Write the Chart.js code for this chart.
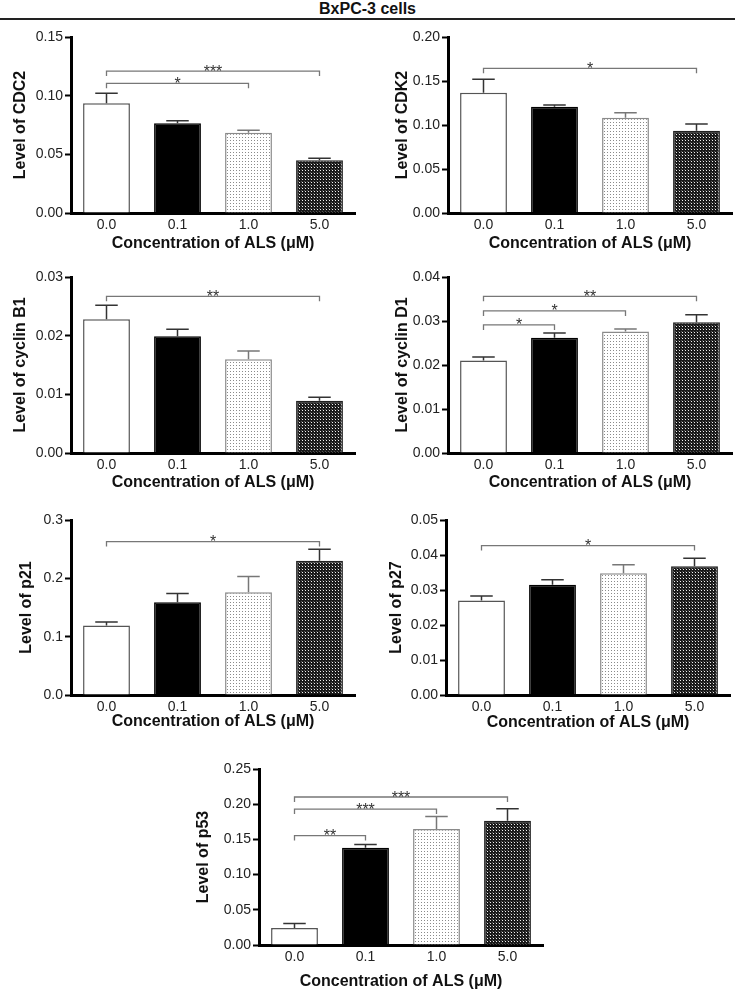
<!DOCTYPE html>
<html>
<head>
<meta charset="utf-8">
<script src="https://cdn.jsdelivr.net/npm/chart.js@4.4.0/dist/chart.umd.min.js"></script>
<style>
  body { margin: 0; background: #fff; width: 735px; height: 990px; position: relative; overflow: hidden; font-family: 'Liberation Sans', Arial, sans-serif; }
  #title { position: absolute; left: 0; top: 0; width: 735px; text-align: center; font-weight: bold; font-size: 16px; line-height: 18px; color: #111; }
  #rule { position: absolute; left: 0; top: 18px; width: 735px; border-top: 2px solid #222; }
  canvas { position: absolute; }
</style>
</head>
<body>
<div id="title">BxPC-3 cells</div>
<div id="rule"></div>
<script>
// Data (mean and upper error of each bar)
const categories = ['0.0', '0.1', '1.0', '5.0'];

const cdc2Mean = [0.0935, 0.0764, 0.0684, 0.0449];
const cdc2Err = [0.0085, 0.0023, 0.0021, 0.0017];
const cdc2Ticks = ['0.00', '0.05', '0.10', '0.15'];
const cdc2Sig = [[3, 0.121, '***'], [2, 0.1105, '*']];

const cdk2Mean = [0.1367, 0.1208, 0.1083, 0.0935];
const cdk2Err = [0.0153, 0.0019, 0.0057, 0.0075];
const cdk2Ticks = ['0.00', '0.05', '0.10', '0.15', '0.20'];
const cdk2Sig = [[3, 0.1644, '*']];

const cyclinB1Mean = [0.0228, 0.0199, 0.0160, 0.0089];
const cyclinB1Err = [0.0024, 0.0012, 0.0014, 0.0006];
const cyclinB1Ticks = ['0.00', '0.01', '0.02', '0.03'];
const cyclinB1Sig = [[3, 0.0267, '**']];

const cyclinD1Mean = [0.0210, 0.0262, 0.0276, 0.0297];
const cyclinD1Err = [0.0008, 0.0011, 0.0006, 0.0017];
const cyclinD1Ticks = ['0.00', '0.01', '0.02', '0.03', '0.04'];
const cyclinD1Sig = [[3, 0.0356, '**'], [2, 0.0323, '*'], [1, 0.0291, '*']];

const p21Mean = [0.119, 0.159, 0.176, 0.230];
const p21Err = [0.006, 0.015, 0.027, 0.020];
const p21Ticks = ['0.0', '0.1', '0.2', '0.3'];
const p21Sig = [[3, 0.263, '*']];

const p27Mean = [0.0270, 0.0315, 0.0348, 0.0368];
const p27Err = [0.0013, 0.0014, 0.0024, 0.0023];
const p27Ticks = ['0.00', '0.01', '0.02', '0.03', '0.04', '0.05'];
const p27Sig = [[3, 0.0427, '*']];

const p53Mean = [0.0243, 0.1383, 0.1646, 0.1764];
const p53Err = [0.0062, 0.0043, 0.0179, 0.0171];
const p53Ticks = ['0.00', '0.05', '0.10', '0.15', '0.20', '0.25'];
const p53Sig = [[3, 0.2102, '***'], [2, 0.1931, '***'], [1, 0.1554, '**']];

const panels = [
    { label: 'Level of CDC2', mean: cdc2Mean, err: cdc2Err, ticks: cdc2Ticks, sig: cdc2Sig },
    { label: 'Level of CDK2', mean: cdk2Mean, err: cdk2Err, ticks: cdk2Ticks, sig: cdk2Sig },
    { label: 'Level of cyclin B1', mean: cyclinB1Mean, err: cyclinB1Err, ticks: cyclinB1Ticks, sig: cyclinB1Sig },
    { label: 'Level of cyclin D1', mean: cyclinD1Mean, err: cyclinD1Err, ticks: cyclinD1Ticks, sig: cyclinD1Sig },
    { label: 'Level of p21', mean: p21Mean, err: p21Err, ticks: p21Ticks, sig: p21Sig },
    { label: 'Level of p27', mean: p27Mean, err: p27Err, ticks: p27Ticks, sig: p27Sig },
    { label: 'Level of p53', mean: p53Mean, err: p53Err, ticks: p53Ticks, sig: p53Sig }
];

// where each plot area sits on the page
const boxes = [
    { axisX: 71, top: 37, bottom: 213, right: 355, yTitleX: 21, xTitleY: 243 },
    { axisX: 448, top: 37, bottom: 213, right: 732, yTitleX: 403, xTitleY: 243 },
    { axisX: 71, top: 277, bottom: 453, right: 355, yTitleX: 21, xTitleY: 482 },
    { axisX: 448, top: 277, bottom: 453, right: 732, yTitleX: 403, xTitleY: 482 },
    { axisX: 71, top: 520, bottom: 695, right: 355, yTitleX: 27, xTitleY: 721 },
    { axisX: 446, top: 520, bottom: 695, right: 730, yTitleX: 397, xTitleY: 722 },
    { axisX: 259, top: 769, bottom: 945, right: 543, yTitleX: 204, xTitleY: 981 }
];

const FONT = "'Liberation Sans', Arial, sans-serif";

function makePattern(size, base, dots) {
    const c = document.createElement('canvas');
    c.width = size; c.height = size;
    const g = c.getContext('2d');
    g.fillStyle = base;
    g.fillRect(0, 0, size, size);
    dots.forEach(d => {
        g.fillStyle = d[2];
        g.fillRect(d[0], d[1], 1, 1);
    });
    return g.createPattern(c, 'repeat');
}

const dotted = makePattern(3, '#ffffff', [[1, 1, '#8a8a8a']]);
const checker = makePattern(3, '#1a1a1a', [[1, 1, '#f0f0f0'], [0, 0, '#555555']]);
const barFill = ['#ffffff', '#000000', dotted, checker];
const barEdge = ['#555555', '#000000', '#8a8a8a', '#222222'];

// error bars and significance brackets
const marksPlugin = {
    id: 'marks',
    afterDatasetsDraw(chart, args, opts) {
        const ctx = chart.ctx;
        const y = chart.scales.y;
        const bars = chart.getDatasetMeta(0).data;
        ctx.save();
        opts.err.forEach((e, i) => {
            const b = bars[i];
            const top = y.getPixelForValue(opts.mean[i]);
            const cap = y.getPixelForValue(opts.mean[i] + e);
            const half = b.width * 0.24;
            ctx.strokeStyle = i === 2 ? '#777' : '#333';
            ctx.lineWidth = 1.5;
            ctx.beginPath();
            ctx.moveTo(b.x, top);
            ctx.lineTo(b.x, cap);
            ctx.moveTo(b.x - half, cap);
            ctx.lineTo(b.x + half, cap);
            ctx.stroke();
        });
        opts.sig.forEach(s => {
            const x0 = bars[0].x;
            const x1 = bars[s[0]].x;
            const ly = y.getPixelForValue(s[1]);
            ctx.strokeStyle = '#777';
            ctx.lineWidth = 1.3;
            ctx.beginPath();
            ctx.moveTo(x0, ly + 5);
            ctx.lineTo(x0, ly);
            ctx.lineTo(x1, ly);
            ctx.lineTo(x1, ly + 5);
            ctx.stroke();
            ctx.fillStyle = '#333';
            ctx.font = '16px ' + FONT;
            ctx.textAlign = 'center';
            ctx.textBaseline = 'alphabetic';
            ctx.fillText(s[2], (x0 + x1) / 2, ly + 5.5);
        });
        ctx.restore();
    }
};

panels.forEach((p, k) => {
    const box = boxes[k];
    const yAxisW = 70;
    const padTop = 12;
    const padRight = 12;
    const xAxisH = box.xTitleY - box.bottom + 10;
    const left = box.axisX - yAxisW;
    const width = box.right - left + padRight;
    const height = padTop + (box.bottom - box.top) + xAxisH;

    const canvas = document.createElement('canvas');
    canvas.width = width;
    canvas.height = height;
    canvas.style.left = left + 'px';
    canvas.style.top = (box.top - padTop) + 'px';
    document.body.appendChild(canvas);

    const tickVals = p.ticks.map(t => parseFloat(t));

    new Chart(canvas.getContext('2d'), {
        type: 'bar',
        data: {
            labels: categories,
            datasets: [{
                data: p.mean,
                backgroundColor: barFill,
                borderColor: barEdge,
                borderWidth: 1.5,
                barPercentage: 0.66,
                categoryPercentage: 1
            }]
        },
        options: {
            responsive: false,
            animation: false,
            layout: { padding: { top: padTop, right: padRight, left: 0, bottom: 0 } },
            plugins: {
                legend: { display: false },
                tooltip: { enabled: false },
                marks: { mean: p.mean, err: p.err, sig: p.sig }
            },
            scales: {
                x: {
                    grid: { display: false, drawTicks: false },
                    border: { display: true, color: '#000', width: 3 },
                    ticks: { font: { size: 14, family: FONT }, color: '#222', padding: 4, maxRotation: 0 },
                    title: {
                        display: true, text: 'Concentration of ALS (μM)', color: '#111', padding: 0,
                        font: { size: 16, weight: 'bold', family: FONT }
                    },
                    afterFit: s => { s.height = xAxisH; }
                },
                y: {
                    min: 0,
                    max: tickVals[tickVals.length - 1],
                    afterBuildTicks: s => { s.ticks = tickVals.map(v => ({ value: v })); },
                    grid: { display: true, drawOnChartArea: false, drawTicks: true, tickLength: 6, tickWidth: 2, tickColor: '#000' },
                    border: { display: true, color: '#000', width: 3 },
                    ticks: { font: { size: 14, family: FONT }, color: '#222', padding: 2, callback: (v, i) => p.ticks[i] },
                    title: {
                        display: true, text: p.label, color: '#111',
                        padding: { top: box.yTitleX - left - 9.6 },
                        font: { size: 16, weight: 'bold', family: FONT }
                    },
                    afterFit: s => { s.width = yAxisW; }
                }
            }
        },
        plugins: [marksPlugin]
    });
});
</script>
</body>
</html>
